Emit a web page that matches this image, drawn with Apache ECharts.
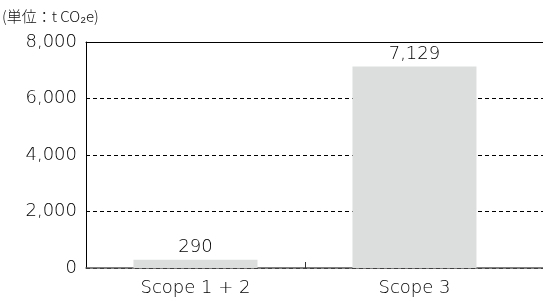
<!DOCTYPE html>
<html>
<head>
<meta charset="utf-8">
<script src="https://cdn.jsdelivr.net/npm/echarts@6/dist/echarts.min.js"></script>
<style>
  html, body { margin: 0; padding: 0; background: #fff; }
  #chart { width: 543px; height: 302px; }
</style>
</head>
<body>
<div id="chart"></div>
<script>
var categories = ['Scope 1 + 2', 'Scope 3'];
var values = [290, 7129];
var yTicks = [0, 2000, 4000, 6000, 8000];

var font = '"DejaVu Sans", sans-serif';
var cjkFont = '"Noto Sans CJK JP", sans-serif';
var xMax = 2.087; // plot runs past the last category on the right

var barData = [];
for (var i = 0; i < categories.length; i++) {
    barData.push([i + 0.5, values[i]]);
}

var chart = echarts.init(document.getElementById('chart'));
var option = {
    animation: false,
    title: {
        text: '(単位：t CO₂e)',
        left: 2,
        top: 9,
        padding: 0,
        textStyle: { fontFamily: cjkFont, fontSize: 15, fontWeight: 300, color: '#111' }
    },
    grid: { left: 86, right: 0, top: 42, bottom: 34 },
    xAxis: [{
        type: 'value',
        min: 0,
        max: xMax,
        axisLine: { show: true, lineStyle: { color: '#555', width: 1.5 } },
        axisTick: { show: true, inside: true, length: 6, customValues: [1], lineStyle: { color: '#333' } },
        axisLabel: {
            customValues: [0.5, 1.5],
            margin: 11,
            fontFamily: font,
            fontWeight: 200,
            fontSize: 18,
            color: '#000',
            formatter: function (v) { return categories[Math.floor(v)]; }
        },
        splitLine: { show: false }
    }, {
        type: 'value',
        position: 'top',
        min: 0,
        max: xMax,
        axisLine: { show: true, lineStyle: { color: '#000', width: 1 } },
        axisTick: { show: false },
        axisLabel: { show: false },
        splitLine: { show: false }
    }],
    yAxis: {
        type: 'value',
        min: yTicks[0],
        max: yTicks[yTicks.length - 1],
        interval: 2000,
        axisLine: { show: true, lineStyle: { color: '#000', width: 1 } },
        axisTick: { show: false },
        axisLabel: {
            margin: 9,
            fontFamily: font,
            fontWeight: 200,
            fontSize: 18,
            color: '#000',
            formatter: function (v) { return v.toLocaleString('en-US'); }
        },
        splitLine: { show: true, lineStyle: { color: '#000', type: [4, 3], width: 1 } }
    },
    series: [{
        type: 'bar',
        xAxisIndex: 0,
        data: barData,
        barWidth: 124,
        itemStyle: { color: '#dcdddd' },
        label: {
            show: true,
            position: 'top',
            distance: 3,
            fontFamily: font,
            fontWeight: 200,
            fontSize: 18,
            color: '#000',
            formatter: function (p) { return p.value[1].toLocaleString('en-US'); }
        }
    }]
};
chart.setOption(option);
</script>
</body>
</html>
